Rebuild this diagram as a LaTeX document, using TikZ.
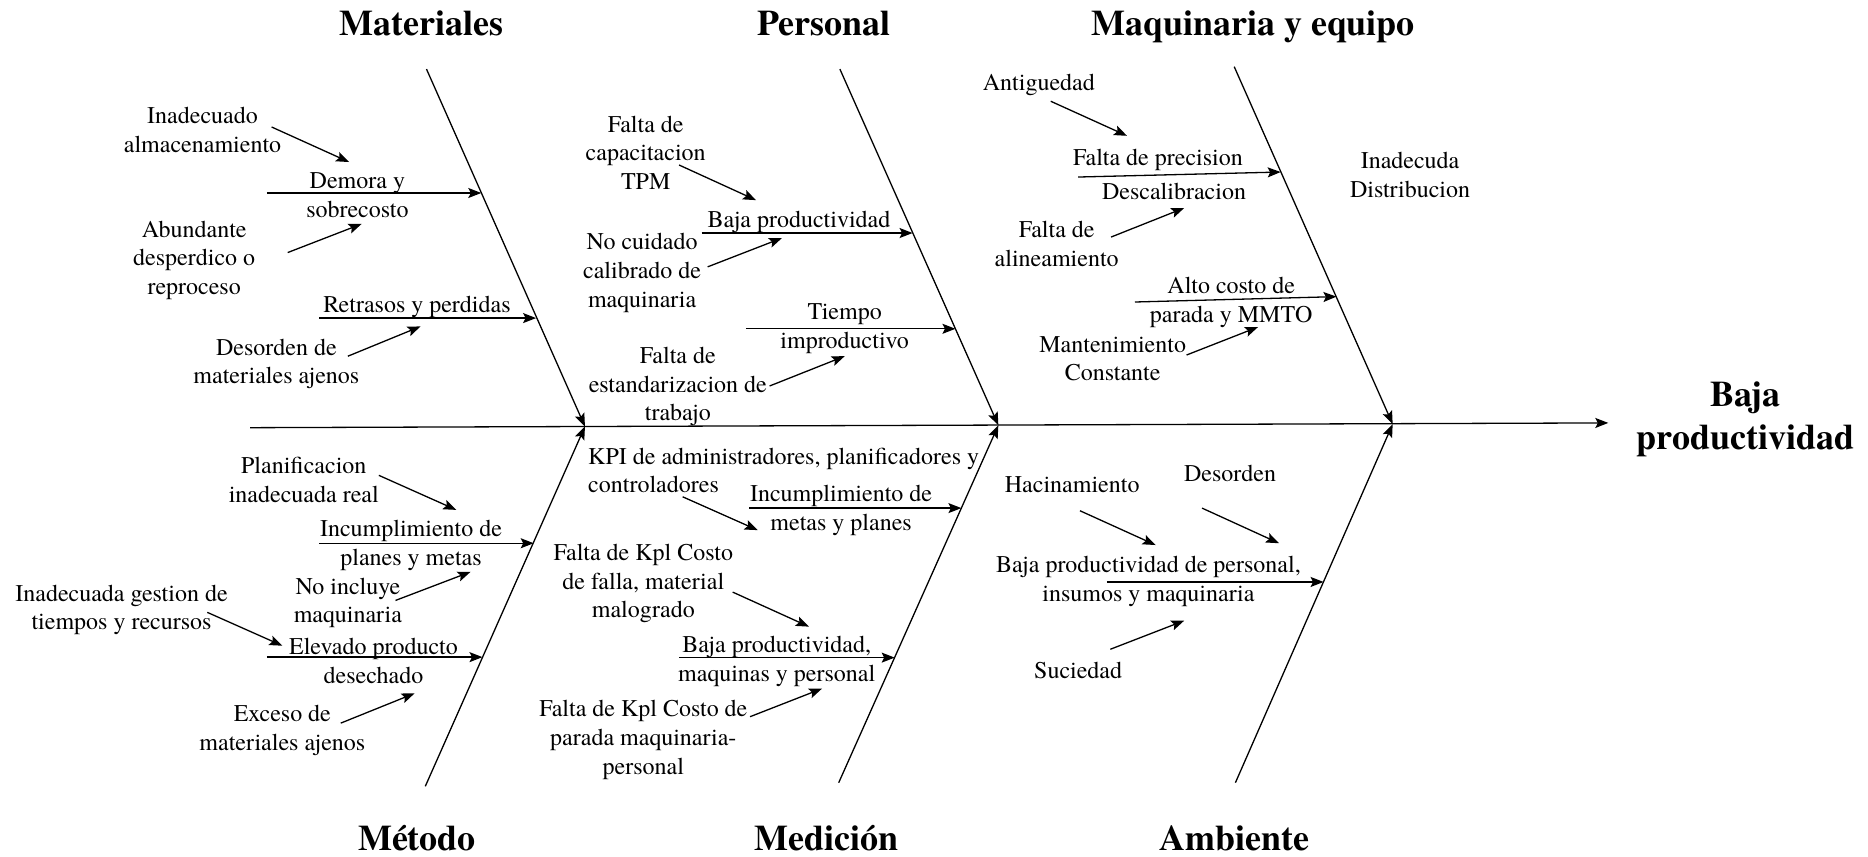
\documentclass[tikz,border=0pt]{standalone}
\usepackage{fontspec}
\setmainfont{texgyretermes}[Extension=.otf, UprightFont=*-regular, BoldFont=*-bold, ItalicFont=*-italic, BoldItalicFont=*-bolditalic]
\usetikzlibrary{arrows.meta}
\begin{document}
\begin{tikzpicture}[x=1.1913pt,y=-1.1913pt,
  lbl/.style={font=\fontsize{24}{28.6}\selectfont, align=center, inner sep=0pt},
  ttl/.style={font=\bfseries\fontsize{36}{43}\selectfont, align=center, inner sep=0pt, anchor=base},
  bone/.style={line width=1.3pt, -{Stealth[length=13pt,width=10pt,inset=2.5pt]}},
  arr/.style={line width=1.3pt, -{Stealth[length=13pt,width=10pt,inset=2.5pt]}}]
\useasboundingbox (0,0) rectangle (1568,719);

% ---------- titles ----------
\node[ttl] (tMat) at (354,29.5) {Materiales};
\node[ttl] (tPer) at (692,29.5) {Personal};
\node[ttl] (tMaq) at (1052,29.5) {Maquinaria y equipo};
\node[ttl] (tMet) at (350,713.5) {Método};
\node[ttl] (tMed) at (694,713.5) {Medición};
\node[ttl] (tAmb) at (1036,713.5) {Ambiente};
\node[ttl] (tEff1) at (1465,341.6) {Baja};
\node[ttl] (tEff2) at (1465,377.7) {productividad};

% ---------- spine and bones ----------
\coordinate (S0) at (210,359);
\coordinate (S1) at (1350,355);
\coordinate (J1) at (491,358);
\coordinate (J2) at (838,357);
\coordinate (J3) at (1169,356);
\coordinate (B1) at (358,58);
\coordinate (B2) at (705,58);
\coordinate (B3) at (1036,56);
\coordinate (B4) at (357,660);
\coordinate (B5) at (704,657);
\coordinate (B6) at (1037,657);
\draw[bone] (S0) -- (S1);
\draw[bone] (B1) -- (J1);
\draw[bone] (B2) -- (J2);
\draw[bone] (B3) -- (J3);
\draw[bone] (B4) -- (J1);
\draw[bone] (B5) -- (J2);
\draw[bone] (B6) -- (J3);

% ---------- Materiales ----------
\node[lbl] (l1) at (170,109) {Inadecuado\\almacenamiento};
\coordinate (a1s) at (228,106.6); \coordinate (a1e) at (293,136);
\draw[arr] (a1s) -- (a1e);
\node[lbl] (h1t) at (300,164) {Demora y\\sobrecosto};
\coordinate (h1s) at (224,162); \coordinate (h1e) at (404,162);
\draw[arr] (h1s) -- (h1e);
\node[lbl] (l2) at (163,218.5) {Abundante\\desperdico o\\reproceso};
\coordinate (a2s) at (241.5,212); \coordinate (a2e) at (303.5,188);
\draw[arr] (a2s) -- (a2e);
\node[lbl] (h2t) at (350,258) {Retrasos y perdidas};
\coordinate (h2s) at (268,267); \coordinate (h2e) at (450,267);
\draw[arr] (h2s) -- (h2e);
\node[lbl] (l3) at (232,305.5) {Desorden de\\materiales ajenos};
\coordinate (a3s) at (292,299); \coordinate (a3e) at (353,274);
\draw[arr] (a3s) -- (a3e);

% ---------- Personal ----------
\node[lbl] (l4) at (542,128) {Falta de\\capacitacion\\TPM};
\coordinate (a4s) at (570,138.5); \coordinate (a4e) at (634.6,168);
\draw[arr] (a4s) -- (a4e);
\node[lbl] (h3t) at (670.7,186) {Baja productividad};
\coordinate (h3s) at (589,195.6); \coordinate (h3e) at (766,195.6);
\draw[arr] (h3s) -- (h3e);
\node[lbl] (l5) at (539,229) {No cuidado\\calibrado de\\maquinaria};
\coordinate (a5s) at (594,224); \coordinate (a5e) at (656.4,199.8);
\draw[arr] (a5s) -- (a5e);
\node[lbl] (h4t) at (709,276) {Tiempo\\improductivo};
\coordinate (h4s) at (626,276); \coordinate (h4e) at (802,276);
\draw[arr] (h4s) -- (h4e);
\node[lbl] (l6) at (569,324.5) {Falta de\\estandarizacion de\\trabajo};
\coordinate (a6s) at (646,324); \coordinate (a6e) at (709,299);
\draw[arr] (a6s) -- (a6e);

% ---------- Maquinaria y equipo ----------
\node[lbl] (l7) at (872,71) {Antiguedad};
\coordinate (a7s) at (882,85); \coordinate (a7e) at (946,114);
\draw[arr] (a7s) -- (a7e);
\node[lbl] (h5t) at (972,134) {Falta de precision};
\node[lbl] (h5u) at (985.5,161) {Descalibracion};
\coordinate (h5s) at (905,148.6); \coordinate (h5e) at (1075,144.4);
\draw[arr] (h5s) -- (h5e);
\node[lbl] (l8) at (887,205) {Falta de\\alineamiento};
\coordinate (a8s) at (932.6,199); \coordinate (a8e) at (994,174.6);
\draw[arr] (a8s) -- (a8e);
\node[lbl] (h6t) at (1033.5,254) {Alto costo de\\parada y MMTO};
\coordinate (h6s) at (952.7,253.5); \coordinate (h6e) at (1121.8,249);
\draw[arr] (h6s) -- (h6e);
\node[lbl] (l9) at (934,301) {Mantenimiento\\Constante};
\coordinate (a9s) at (996,298); \coordinate (a9e) at (1056,274.5);
\draw[arr] (a9s) -- (a9e);
\node[lbl] (l10) at (1183.6,147) {Inadecuda\\Distribucion};

% ---------- Método ----------
\node[lbl] (l11) at (255,403) {Planificacion\\inadecuada real};
\coordinate (a11s) at (318,399); \coordinate (a11e) at (383,428);
\draw[arr] (a11s) -- (a11e);
\node[lbl] (h7t) at (345,458) {Incumplimiento de\\planes y metas};
\coordinate (h7s) at (268,456); \coordinate (h7e) at (448,456);
\draw[arr] (h7s) -- (h7e);
\node[lbl] (l12) at (292,506) {No incluye\\maquinaria};
\coordinate (a12s) at (332,504); \coordinate (a12e) at (395,480);
\draw[arr] (a12s) -- (a12e);
\node[lbl] (l13) at (102,512) {Inadecuada gestion de\\tiempos y recursos};
\coordinate (a13s) at (174,514); \coordinate (a13e) at (237,542);
\draw[arr] (a13s) -- (a13e);
\node[lbl] (h8t) at (313.5,555) {Elevado producto\\desechado};
\coordinate (h8s) at (224,551.6); \coordinate (h8e) at (405,551.6);
\draw[arr] (h8s) -- (h8e);
\node[lbl] (l14) at (237,613) {Exceso de\\materiales ajenos};
\coordinate (a14s) at (286,607); \coordinate (a14e) at (348,582);
\draw[arr] (a14s) -- (a14e);

% ---------- Medición ----------
\node[lbl, align=left, anchor=west] (l15) at (493.6,395) {KPI de administradores, planificadores y\\controladores};
\coordinate (a15s) at (573,417); \coordinate (a15e) at (636,445);
\draw[arr] (a15s) -- (a15e);
\node[lbl] (h9t) at (706,428.5) {Incumplimiento de\\metas y planes};
\coordinate (h9s) at (629,426.5); \coordinate (h9e) at (807,426.5);
\draw[arr] (h9s) -- (h9e);
\node[lbl] (l16) at (540,490) {Falta de Kpl Costo\\de falla, material\\malogrado};
\coordinate (a16s) at (615,497); \coordinate (a16e) at (679,526);
\draw[arr] (a16s) -- (a16e);
\node[lbl] (h10t) at (652,555) {Baja productividad,\\maquinas y personal};
\coordinate (h10s) at (570,552); \coordinate (h10e) at (751,552);
\draw[arr] (h10s) -- (h10e);
\node[lbl] (l17) at (540,621) {Falta de Kpl Costo de\\parada maquinaria-\\personal};
\coordinate (a17s) at (629.6,601.6); \coordinate (a17e) at (690,578);
\draw[arr] (a17s) -- (a17e);

% ---------- Ambiente ----------
\node[lbl] (l18) at (900,407) {Hacinamiento};
\coordinate (a18s) at (906.5,428.7); \coordinate (a18e) at (970,457.5);
\draw[arr] (a18s) -- (a18e);
\node[lbl] (l19) at (1032.5,397) {Desorden};
\coordinate (a19s) at (1009,426.5); \coordinate (a19e) at (1073.6,456);
\draw[arr] (a19s) -- (a19e);
\node[lbl] (h11t) at (964,488) {Baja productividad de personal,\\insumos y maquinaria};
\coordinate (h11s) at (929,488.5); \coordinate (h11e) at (1111,488.5);
\draw[arr] (h11s) -- (h11e);
\node[lbl] (l20) at (905,563) {Suciedad};
\coordinate (a20s) at (932,545); \coordinate (a20e) at (994,521);
\draw[arr] (a20s) -- (a20e);
\end{tikzpicture}
\end{document}
